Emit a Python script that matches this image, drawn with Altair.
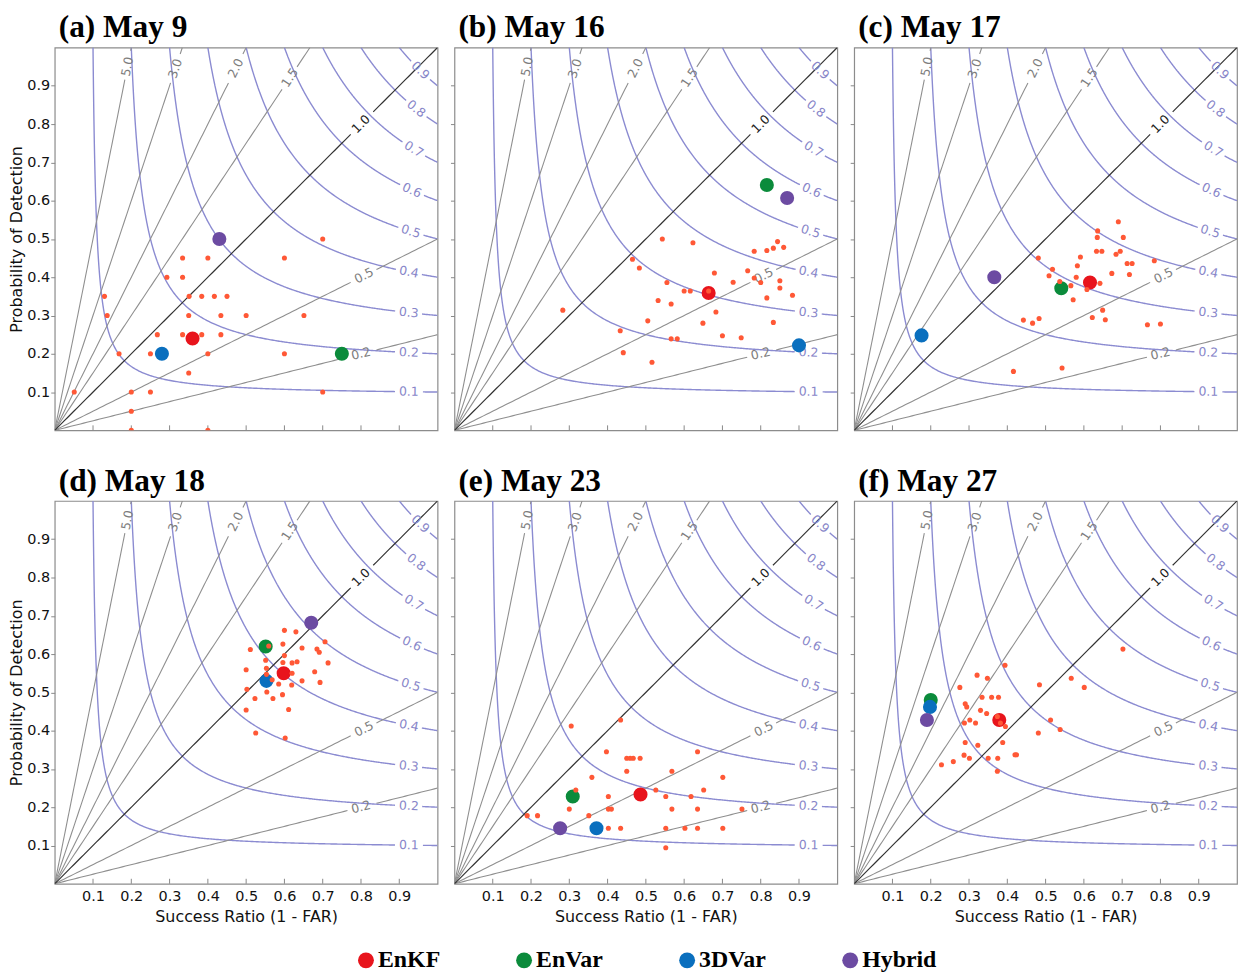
import altair as alt
import numpy as np
import pandas as pd

# ---------------- data ----------------
experiments = ["EnKF", "EnVar", "3DVar", "Hybrid"]
exp_colors = ["#e8141c", "#0b8b3b", "#0a6fbe", "#6c4ba2"]

panel_titles = ["(a) May 9", "(b) May 16", "(c) May 17",
                "(d) May 18", "(e) May 23", "(f) May 27"]

# large dots, order EnKF, EnVar, 3DVar, Hybrid
big_sr = [
    [0.36, 0.75, 0.28, 0.43],
    [0.664, 0.816, 0.90, 0.869],
    [0.616, 0.541, 0.176, 0.366],
    [0.598, 0.551, 0.553, 0.670],
    [0.486, 0.309, 0.371, 0.276],
    [0.379, 0.200, 0.198, 0.190],
]
big_pod = [
    [0.24, 0.20, 0.20, 0.50],
    [0.359, 0.641, 0.222, 0.607],
    [0.386, 0.371, 0.248, 0.400],
    [0.550, 0.620, 0.530, 0.682],
    [0.233, 0.228, 0.145, 0.145],
    [0.428, 0.480, 0.462, 0.428],
]

# small dots (individual members)
a_sr = [0.70, 0.334, 0.40, 0.60, 0.293, 0.334, 0.13, 0.351, 0.384, 0.417, 0.45,
        0.137, 0.35, 0.434, 0.50, 0.651, 0.268, 0.334, 0.384, 0.434, 0.168, 0.25,
        0.40, 0.60, 0.35, 0.051, 0.20, 0.25, 0.70, 0.20, 0.20, 0.40]
a_pod = [0.50, 0.45, 0.45, 0.45, 0.40, 0.40, 0.35, 0.35, 0.35, 0.35, 0.35,
         0.30, 0.30, 0.30, 0.30, 0.30, 0.25, 0.25, 0.25, 0.25, 0.20, 0.20,
         0.20, 0.20, 0.15, 0.10, 0.10, 0.10, 0.10, 0.05, 0.0, 0.0]

b_sr = [0.543, 0.623, 0.465, 0.483, 0.783, 0.816, 0.833, 0.844, 0.86, 0.679, 0.766,
        0.783, 0.80, 0.85, 0.85, 0.883, 0.816, 0.728, 0.555, 0.60, 0.616, 0.664,
        0.532, 0.566, 0.683, 0.283, 0.505, 0.649, 0.833, 0.433, 0.70, 0.749, 0.566,
        0.582, 0.441, 0.516]
b_pod = [0.50, 0.49, 0.447, 0.424, 0.468, 0.47, 0.476, 0.493, 0.478, 0.411, 0.417,
         0.398, 0.386, 0.391, 0.372, 0.353, 0.346, 0.387, 0.386, 0.364, 0.364, 0.364,
         0.339, 0.33, 0.309, 0.314, 0.286, 0.28, 0.282, 0.26, 0.247, 0.242, 0.239,
         0.239, 0.203, 0.178]

c_sr = [0.69, 0.636, 0.635, 0.703, 0.633, 0.647, 0.695, 0.684, 0.591, 0.481, 0.583,
        0.518, 0.713, 0.726, 0.784, 0.509, 0.673, 0.719, 0.58, 0.537, 0.566, 0.642,
        0.608, 0.572, 0.442, 0.466, 0.483, 0.622, 0.649, 0.656, 0.766, 0.80, 0.416,
        0.543]
c_pod = [0.545, 0.521, 0.504, 0.504, 0.468, 0.468, 0.468, 0.46, 0.453, 0.45, 0.43,
         0.421, 0.436, 0.436, 0.443, 0.404, 0.41, 0.407, 0.40, 0.389, 0.378, 0.384,
         0.368, 0.341, 0.288, 0.28, 0.292, 0.295, 0.314, 0.289, 0.276, 0.278, 0.154,
         0.163]

d_sr = [0.60, 0.63, 0.511, 0.559, 0.596, 0.646, 0.685, 0.691, 0.706, 0.714, 0.50,
        0.551, 0.60, 0.596, 0.62, 0.633, 0.553, 0.62, 0.679, 0.553, 0.568, 0.585,
        0.619, 0.646, 0.693, 0.502, 0.554, 0.595, 0.523, 0.57, 0.50, 0.611, 0.525,
        0.602]
d_pod = [0.662, 0.658, 0.612, 0.621, 0.626, 0.616, 0.613, 0.605, 0.632, 0.577, 0.559,
         0.584, 0.596, 0.578, 0.577, 0.58, 0.563, 0.55, 0.554, 0.547, 0.533, 0.522,
         0.519, 0.53, 0.526, 0.508, 0.501, 0.494, 0.484, 0.484, 0.454, 0.455, 0.394,
         0.381]

e_sr = [0.434, 0.305, 0.397, 0.635, 0.45, 0.459, 0.467, 0.485, 0.45, 0.568, 0.359,
        0.701, 0.317, 0.526, 0.651, 0.402, 0.552, 0.618, 0.30, 0.402, 0.41, 0.568,
        0.635, 0.751, 0.19, 0.217, 0.351, 0.402, 0.434, 0.552, 0.602, 0.635, 0.701,
        0.552]
e_pod = [0.428, 0.412, 0.345, 0.345, 0.328, 0.328, 0.328, 0.328, 0.294, 0.294, 0.278,
         0.278, 0.245, 0.245, 0.245, 0.228, 0.228, 0.228, 0.195, 0.195, 0.195, 0.195,
         0.195, 0.195, 0.178, 0.178, 0.178, 0.145, 0.145, 0.145, 0.145, 0.145, 0.145,
         0.094]

f_sr = [0.702, 0.394, 0.321, 0.348, 0.567, 0.484, 0.276, 0.601, 0.334, 0.359, 0.377,
        0.29, 0.294, 0.33, 0.346, 0.374, 0.382, 0.395, 0.288, 0.302, 0.317, 0.513,
        0.538, 0.481, 0.29, 0.323, 0.388, 0.287, 0.301, 0.35, 0.375, 0.42, 0.424,
        0.228, 0.259, 0.374]
f_pod = [0.613, 0.571, 0.545, 0.537, 0.537, 0.52, 0.513, 0.513, 0.487, 0.487, 0.487,
         0.47, 0.462, 0.453, 0.445, 0.437, 0.42, 0.411, 0.42, 0.428, 0.42, 0.428,
         0.403, 0.394, 0.369, 0.362, 0.369, 0.336, 0.328, 0.328, 0.328, 0.337, 0.337,
         0.311, 0.319, 0.294]

small_sr = [a_sr, b_sr, c_sr, d_sr, e_sr, f_sr]
small_pod = [a_pod, b_pod, c_pod, d_pod, e_pod, f_pod]

# performance-diagram background
csi_levels = [0.1, 0.2, 0.3, 0.4, 0.5, 0.6, 0.7, 0.8, 0.9]
bias_levels = [0.25, 0.5, 1.0, 1.5, 2.0, 3.0, 5.0]
bias_texts = ["0.2", "0.5", "1.0", "1.5", "2.0", "3.0", "5.0"]
tick_values = [0.1, 0.2, 0.3, 0.4, 0.5, 0.6, 0.7, 0.8, 0.9]

# label placement (success ratio where each inline label sits)
csi_label_sr = [0.925, 0.925, 0.925, 0.925, 0.93, 0.933, 0.938, 0.944, 0.955]
bias_label_sr = [0.80, 0.808, 0.80, 0.614, 0.473, 0.315, 0.19]
GAP = 0.034

# ---------------- geometry of iso-lines ----------------
def split_gap(sr, pod, cx, cy, lid):
    d = np.hypot(sr - cx, pod - cy)
    keep = d >= GAP
    rows, seg, prev = [], 0, False
    for i in range(len(sr)):
        if keep[i]:
            if not prev:
                seg += 1
            rows.append({"seg": f"{lid}_{seg}", "i": i, "sr": float(sr[i]), "pod": float(pod[i])})
        prev = bool(keep[i])
    return rows

csi_rows, csi_lab = [], []
for k, ls in zip(csi_levels, csi_label_sr):
    t = np.linspace(k, 1, 260)
    sr = np.concatenate([t, 1 / (1 / k + 1 - 1 / t)])
    pod = np.concatenate([1 / (1 / k + 1 - 1 / t), t])
    o = np.lexsort((-pod, sr))
    sr, pod = sr[o], pod[o]
    cy = 1 / (1 / k + 1 - 1 / ls)
    csi_rows += split_gap(sr, pod, ls, cy, f"c{k}")
    ang = np.degrees(np.arctan((cy / ls) ** 2))
    csi_lab.append({"sr": ls, "pod": cy, "label": f"{k:.1f}", "angle": float(ang)})
csi_df = pd.DataFrame(csi_rows)
csi_lab_df = pd.DataFrame(csi_lab)

bias_rows, bias1_rows, bias_lab, bias1_lab = [], [], [], []
for b, txt, ls in zip(bias_levels, bias_texts, bias_label_sr):
    end_sr = min(1.0, 1.0 / b)
    sr = np.linspace(0, end_sr, 120)
    pod = b * sr
    cy = b * ls
    rows = split_gap(sr, pod, ls, cy, f"b{b}")
    lab = {"sr": ls, "pod": cy, "label": txt, "angle": float(360 - np.degrees(np.arctan(b)))}
    if b == 1.0:
        bias1_rows += rows
        bias1_lab.append(lab)
    else:
        bias_rows += rows
        bias_lab.append(lab)
bias_df = pd.DataFrame(bias_rows)
bias1_df = pd.DataFrame(bias1_rows)
bias_lab_df = pd.DataFrame(bias_lab)
bias1_lab_df = pd.DataFrame(bias1_lab)
ticks_df = pd.DataFrame({"sr": tick_values})

# ---------------- styling ----------------
CSI_COLOR = "#8b8bd1"
CSI_TEXT = "#8886c9"
BIAS_COLOR = "#8f8f8f"
DOT_COLOR = "#ff5836"
W = 385
H = 385

scale = alt.Scale(domain=[0, 1], nice=False, zero=False)
legend = alt.Legend(title=None, orient="none", legendX=301, legendY=906,
                    direction="horizontal", symbolType="circle", symbolSize=256,
                    labelFont="Liberation Serif", labelFontSize=24,
                    labelFontWeight="bold", labelColor="black",
                    columnPadding=72, labelOffset=0, symbolStrokeWidth=0,
                    symbolOpacity=1)


def make_panel(idx):
    row, col = divmod(idx, 3)
    if row == 1:
        xaxis = alt.Axis(values=tick_values, format=".1f", ticks=False, domain=False,
                         grid=False, title="Success Ratio (1 - FAR)", labelPadding=6,
                         titlePadding=5)
    else:
        xaxis = alt.Axis(values=tick_values, ticks=False, domain=False, grid=False,
                         labels=False, title=None)
    if col == 0:
        yaxis = alt.Axis(values=tick_values, format=".1f", ticks=True, tickSize=4,
                         domain=False, grid=False, title="Probability of Detection",
                         labelPadding=1, titlePadding=2)
    else:
        yaxis = alt.Axis(values=tick_values, ticks=True, tickSize=4, domain=False,
                         grid=False, labels=False, title=None)
    X = alt.X("sr:Q", scale=scale, axis=xaxis)
    Y = alt.Y("pod:Q", scale=scale, axis=yaxis)

    csi = alt.Chart(csi_df).mark_line(color=CSI_COLOR, strokeWidth=1.4, clip=True).encode(
        x=X, y=Y, detail="seg:N", order="i:Q")
    bias = alt.Chart(bias_df).mark_line(color=BIAS_COLOR, strokeWidth=1.1, clip=True).encode(
        x=X, y=Y, detail="seg:N", order="i:Q")
    bias1 = alt.Chart(bias1_df).mark_line(color="#333333", strokeWidth=1.2, clip=True).encode(
        x=X, y=Y, detail="seg:N", order="i:Q")
    csi_t = alt.Chart(csi_lab_df).mark_text(font="DejaVu Sans", fontSize=12.5,
                                            color=CSI_TEXT).encode(
        x=X, y=Y, text="label:N", angle=alt.Angle("angle:Q", scale=None))
    bias_t = alt.Chart(bias_lab_df).mark_text(font="DejaVu Sans", fontSize=12.5,
                                              color="#7d7d7d").encode(
        x=X, y=Y, text="label:N", angle=alt.Angle("angle:Q", scale=None))
    bias1_t = alt.Chart(bias1_lab_df).mark_text(font="DejaVu Sans", fontSize=12.5,
                                                color="#222222").encode(
        x=X, y=Y, text="label:N", angle=alt.Angle("angle:Q", scale=None))
    tks = alt.Chart(ticks_df).mark_rule(color="#888888", strokeWidth=1).encode(
        x=X, y=alt.YDatum(0, axis=yaxis, scale=scale), y2=alt.Y2Datum(0.013))

    big_df = pd.DataFrame({"exp": experiments, "sr": big_sr[idx], "pod": big_pod[idx]})
    big = alt.Chart(big_df).mark_circle(size=200, opacity=1).encode(
        x=X, y=Y,
        color=alt.Color("exp:N", scale=alt.Scale(domain=experiments, range=exp_colors),
                        legend=legend))
    sm_df = pd.DataFrame({"sr": small_sr[idx], "pod": small_pod[idx]})
    small = alt.Chart(sm_df).mark_circle(size=26, opacity=1, color=DOT_COLOR,
                                         clip=True).encode(x=X, y=Y)

    return alt.layer(csi, bias, bias1, csi_t, bias_t, bias1_t, tks, big, small).properties(
        width=W, height=H,
        title=alt.TitleParams(panel_titles[idx], anchor="start", frame="group",
                              font="Liberation Serif", fontSize=31.5, fontWeight="bold",
                              color="black", offset=4, dx=4))


panels = [make_panel(i) for i in range(6)]

chart = alt.concat(*panels, columns=3, spacing={"row": 71, "column": 17},
                   bounds="flush").properties(
    padding={"left": 0, "top": 0, "right": 0, "bottom": 0}
).configure_view(
    stroke="#8c8c8c", strokeWidth=1.2
).configure_axis(
    labelFont="DejaVu Sans", titleFont="DejaVu Sans", labelFontSize=14.5,
    titleFontSize=16, titleFontWeight="normal", labelColor="#111111",
    titleColor="#111111", tickColor="#888888"
)

chart.save("out.html", embed_options={"renderer": "svg", "actions": False})
